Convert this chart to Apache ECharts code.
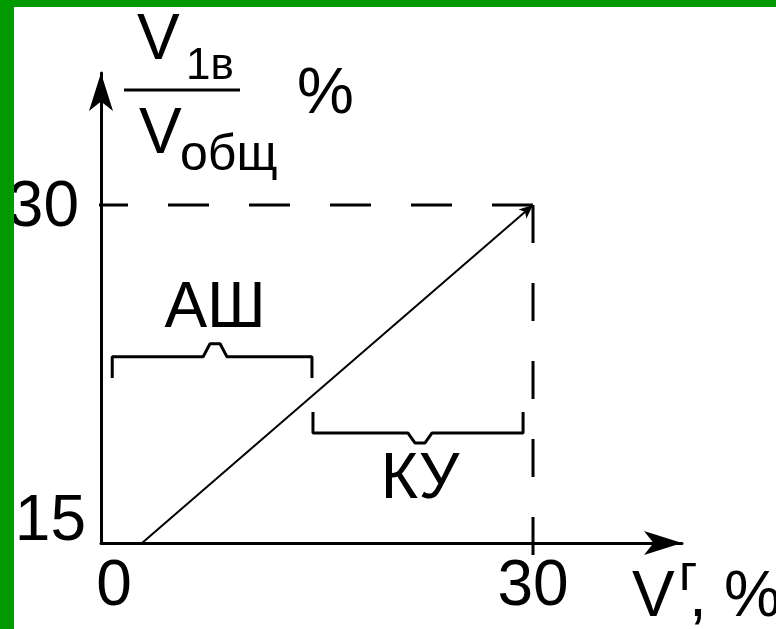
<!DOCTYPE html>
<html>
<head>
<meta charset="utf-8">
<script src="https://cdn.jsdelivr.net/npm/echarts@6/dist/echarts.min.js"></script>
<style>
  html, body { margin: 0; padding: 0; background: #ffffff; }
  #chart { width: 776px; height: 629px; }
</style>
</head>
<body>
<div id="chart"></div>
<script>
// Axis ticks that carry labels
const xTickValues = [0, 30];
const yTickValues = [15, 30];

// Main dependence: V1в/Vобщ (%) against Vг (%)
const mainX = [2.85, 30];
const mainY = [15, 30];

// Upper bound guide corner (Vг = 30, V1в/Vобщ = 30)
const boundX = 30;
const boundY = 30;

// Zones marked with braces: [from, to] along Vг, bar level, end level, tip
const ashRange = [0.78, 14.65];
const ashLevels = { bar: 23.26, end: 22.32, tip: 23.84, tipX: 7.92 };
const kuRange = [14.72, 29.31];
const kuLevels = { bar: 19.88, end: 20.81, tip: 19.44, tipX: 22.15 };
const zoneNames = ['АШ', 'КУ'];

const FONT = 'Liberation Sans, Arial, sans-serif';
const chart = echarts.init(document.getElementById('chart'), null, { renderer: 'canvas' });

function bracePoints(range, lv) {
  const n = 0.83, f = 0.35;
  return [
    [range[0], lv.end],
    [range[0], lv.bar],
    [lv.tipX - n, lv.bar],
    [lv.tipX - f, lv.tip],
    [lv.tipX + f, lv.tip],
    [lv.tipX + n, lv.bar],
    [range[1], lv.bar],
    [range[1], lv.end]
  ];
}

const lineAngle = Math.atan2((mainY[1] - mainY[0]) * 22.533, (mainX[1] - mainX[0]) * 14.4) * 180 / Math.PI;

const zoneLabel = {
  show: true,
  formatter: '{b}',
  color: '#000000',
  opacity: 1,
  textBorderWidth: 0,
  fontFamily: FONT,
  fontSize: 64
};

const option = {
  backgroundColor: '#ffffff',
  animation: false,
  grid: { left: 101, top: 73, right: 94, bottom: 86, containLabel: false },
  xAxis: {
    type: 'value',
    min: 0,
    max: 40.347,
    interval: 30,
    splitLine: { show: false },
    axisTick: { show: false },
    axisLine: {
      show: true,
      symbol: ['none', 'arrow'],
      symbolSize: [18, 38],
      lineStyle: { color: '#000', width: 3 }
    },
    axisLabel: {
      customValues: xTickValues,
      margin: 12,
      color: '#000',
      fontFamily: FONT,
      fontSize: 64,
      formatter: function (v) {
        if (xTickValues.indexOf(v) < 0) return '';
        return v === 0 ? '{z|' + v + '}' : '{n|' + v + '}';
      },
      rich: {
        z: { fontFamily: FONT, fontSize: 64, color: '#000', padding: [0, 0, 0, 26] },
        n: { fontFamily: FONT, fontSize: 64, color: '#000' }
      }
    }
  },
  yAxis: {
    type: 'value',
    min: 15,
    max: 35.858,
    interval: 15,
    splitLine: { show: false },
    axisTick: { show: false },
    axisLine: {
      show: true,
      symbol: ['none', 'arrow'],
      symbolSize: [18, 38],
      lineStyle: { color: '#000', width: 3 }
    },
    axisLabel: {
      customValues: yTickValues,
      margin: 15,
      color: '#000',
      fontFamily: FONT,
      fontSize: 64,
      formatter: function (v) {
        if (yTickValues.indexOf(v) < 0) return '';
        return v === 15 ? '{lo|' + v + '}' : '{n|' + v + '}';
      },
      rich: {
        lo: { fontFamily: FONT, fontSize: 64, color: '#000', padding: [0, 0, 42, 0] },
        n: { fontFamily: FONT, fontSize: 64, color: '#000', padding: [6, 7, 0, 0] }
      }
    }
  },
  series: [
    {
      type: 'line',
      name: 'bound-h',
      clip: false,
      silent: true,
      symbol: 'none',
      data: [[boundX, boundY], [-1.0, boundY]],
      lineStyle: { color: '#000', width: 3, type: [41, 40] }
    },
    {
      type: 'line',
      name: 'bound-v',
      clip: false,
      silent: true,
      symbol: 'none',
      data: [[boundX, boundY], [boundX, 14.47]],
      lineStyle: { color: '#000', width: 3, type: [38, 40] }
    },
    {
      type: 'line',
      name: 'main',
      clip: false,
      silent: true,
      symbol: 'none',
      data: [
        [mainX[0], mainY[0]],
        { value: [mainX[1], mainY[1]], symbol: 'arrow', symbolSize: [9, 14], symbolRotate: lineAngle - 90 }
      ],
      itemStyle: { color: '#000' },
      lineStyle: { color: '#000', width: 2 }
    },
    {
      type: 'line',
      name: zoneNames[0],
      clip: false,
      silent: true,
      symbol: 'none',
      data: bracePoints(ashRange, ashLevels),
      lineStyle: { color: '#000', width: 3 }
    },
    {
      type: 'line',
      name: zoneNames[1],
      clip: false,
      silent: true,
      symbol: 'none',
      data: bracePoints(kuRange, kuLevels),
      lineStyle: { color: '#000', width: 3 }
    },
    {
      // zone names placed at each brace tip
      type: 'scatter',
      name: 'zone-labels',
      silent: true,
      symbolSize: 1,
      itemStyle: { color: '#ffffff', opacity: 1 },
      data: [
        { value: [ashLevels.tipX, ashLevels.tip], name: zoneNames[0], label: Object.assign({}, zoneLabel, { position: 'top', distance: 2 }) },
        { value: [kuLevels.tipX, kuLevels.tip], name: zoneNames[1], label: Object.assign({}, zoneLabel, { position: 'bottom', distance: 5 }) }
      ],
      label: zoneLabel,
      emphasis: { disabled: true }
    }
  ],
  graphic: [
    // y-axis title: V1в / Vобщ, %
    { type: 'text', x: 137, y: 41, z: 10, style: { text: 'V', font: '64px ' + FONT, fill: '#000', verticalAlign: 'middle' } },
    { type: 'text', x: 186, y: 67, z: 10, style: { text: '1в', font: '44px ' + FONT, fill: '#000', verticalAlign: 'middle' } },
    { type: 'line', z: 10, shape: { x1: 124, y1: 90, x2: 240, y2: 90 }, style: { stroke: '#000', lineWidth: 3 } },
    { type: 'text', x: 139, y: 135, z: 10, style: { text: 'V', font: '64px ' + FONT, fill: '#000', verticalAlign: 'middle' } },
    { type: 'text', x: 180, y: 156, z: 10, style: { text: 'общ', font: '50px ' + FONT, fill: '#000', verticalAlign: 'middle' } },
    { type: 'text', x: 297, y: 95, z: 10, style: { text: '%', font: '64px ' + FONT, fill: '#000', verticalAlign: 'middle' } },
    // x-axis title: Vг, %
    { type: 'text', x: 632, y: 598, z: 10, style: { text: 'V', font: '64px ' + FONT, fill: '#000', verticalAlign: 'middle' } },
    { type: 'text', x: 679, y: 576, z: 10, style: { text: 'г', font: '50px ' + FONT, fill: '#000', verticalAlign: 'middle' } },
    { type: 'text', x: 689, y: 598, z: 10, style: { text: ',', font: '64px ' + FONT, fill: '#000', verticalAlign: 'middle' } },
    { type: 'text', x: 724, y: 598, z: 10, style: { text: '%', font: '64px ' + FONT, fill: '#000', verticalAlign: 'middle' } },
    // frame bands
    { type: 'rect', z: 100, shape: { x: 0, y: 0, width: 776, height: 7 }, style: { fill: '#009900' } },
    { type: 'rect', z: 100, shape: { x: 0, y: 0, width: 14, height: 629 }, style: { fill: '#009900' } }
  ]
};

chart.setOption(option);
</script>
</body>
</html>
